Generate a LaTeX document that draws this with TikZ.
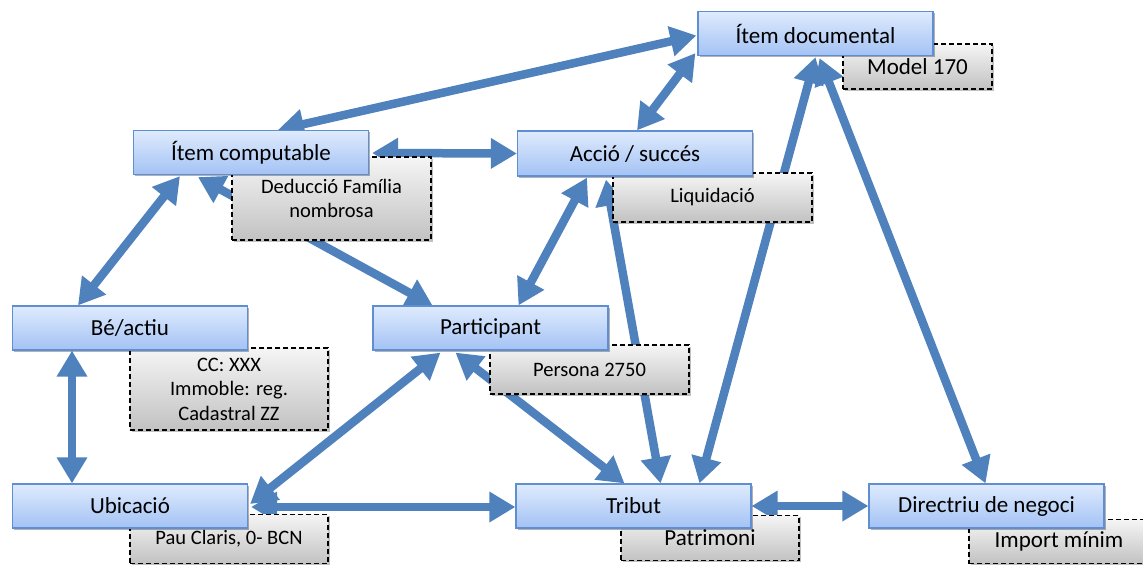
\documentclass[tikz,border=0pt]{standalone}
\usepackage{fontspec}
\setmainfont{Carlito}
\usetikzlibrary{arrows.meta,calc,shadows}
\definecolor{linkblue}{HTML}{4F81BD}
\definecolor{boxedge}{RGB}{95,143,210}
\definecolor{boxtop}{HTML}{DFEBFD}
\definecolor{boxbot}{HTML}{A3C2F4}
\definecolor{notetop}{HTML}{F5F5F5}
\definecolor{notebot}{HTML}{C2C2C2}
\pgfdeclarelayer{links}
\pgfdeclarelayer{notes}
\pgfsetlayers{links,notes,main}

\begin{document}
\begin{tikzpicture}[x=1pt,y=-1pt,
  entity/.style={draw=boxedge, line width=1.2pt, top color=boxtop, bottom color=boxbot,
    minimum width=235pt, minimum height=44pt, inner sep=0pt,
    font=\fontsize{23}{27}\selectfont,
    drop shadow={shadow xshift=1.5pt, shadow yshift=-1.5pt, opacity=0.3, fill=black}},
  note/.style={draw=black, line width=1.3pt, dash pattern=on 5pt off 3pt,
    top color=notetop, bottom color=notebot, inner sep=0pt, align=center,
    font=\fontsize{20.5}{24.5}\selectfont,
    drop shadow={shadow xshift=1.5pt, shadow yshift=-1.5pt, opacity=0.25, fill=black}},
  bignote/.style={note, font=\fontsize{23}{27}\selectfont},
  link/.style={draw=linkblue, line width=8.5pt,
    {Triangle[length=26pt,width=29pt]}-{Triangle[length=26pt,width=29pt]}}
]
\useasboundingbox (0,0) rectangle (1143,566);

% main entities
\node[entity] (doc)   at (815.5,33.5) {Ítem documental};
\node[entity] (comp)  at (251,152.5)  {Ítem computable};
\node[entity, minimum height=45pt] (accio) at (635,153.5) {Acció / succés};
\node[entity] (be)    at (130,328)    {Bé/actiu};
\node[entity] (part)  at (490.5,328)  {Participant};
\node[entity] (ubic)  at (130,506)    {Ubicació};
\node[entity] (trib)  at (633.5,506)  {Tribut};
\node[entity] (dir)   at (986.5,506)  {Directriu de negoci};

% example values attached to the entities
\begin{pgfonlayer}{notes}
\node[bignote, minimum width=149pt, minimum height=45pt] (m170) at (917.5,66.5) {Model 170};
\node[note, minimum width=199pt, minimum height=83pt] (ded) at (331.5,198.5) {Deducció Família\\nombrosa};
\node[note, minimum width=199pt, minimum height=49pt] (liq) at (712.5,197.5) {Liquidació};
\node[note, minimum width=198pt, minimum height=82pt] (cc) at (229,389) {CC: XXX\\Immoble: reg.\\Cadastral ZZ};
\node[note, minimum width=199pt, minimum height=49pt] (pers) at (589.5,369.5) {Persona 2750};
\node[note, minimum width=198pt, minimum height=49pt] (pau) at (229,539) {Pau Claris, 0- BCN};
\node[bignote, minimum width=178pt, minimum height=45pt] (patr) at (710,538) {Patrimoni};
\node[bignote, minimum width=190pt, minimum height=44pt] (imp) at (1064,541.5) {\hspace*{-10pt}Import mínim};
\end{pgfonlayer}

% relations
\begin{pgfonlayer}{links}
\draw[link] ($(doc.west)+(-1,2)$) -- ($(comp.north)+(27,0)$);
\draw[link] ($(doc.south west)+(-2,-3)$) -- ($(accio.north)+(2,0)$);
\draw[link] ($(comp.east)+(3,0.5)$) -- (accio.west);
\draw[link] ($(comp.south)+(-71,1)$) -- ($(be.north)+(-52,0)$);
\draw[link] ($(comp.south)+(-53,2)$) -- ($(part.north)+(-58,0)$);
\draw[link] ($(accio.south)+(-48,1)$) -- ($(part.north)+(28,0)$);
\draw[link] ($(accio.south)+(-29,3)$) -- ($(trib.north)+(27,0)$);
\draw[link] ($(doc.south)+(0,1)$) -- ($(trib.north)+(66,0)$);
\draw[link] ($(doc.south)+(4,2)$) -- ($(dir.north)+(-1,0)$);
\draw[link] ($(part.south)+(-50,2)$) -- ($(ubic.east)+(2,-2)$);
\draw[link] ($(part.south)+(-35,2)$) -- ($(trib.north)+(-9,0)$);
\draw[link] ($(ubic.east)+(3,1)$) -- ($(trib.west)+(0,1)$);
\draw[link] ($(be.south)+(-58,0)$) -- ($(ubic.north)+(-58,0)$);
\draw[link] (trib.east) -- (dir.west);
\end{pgfonlayer}
\end{tikzpicture}
\end{document}
